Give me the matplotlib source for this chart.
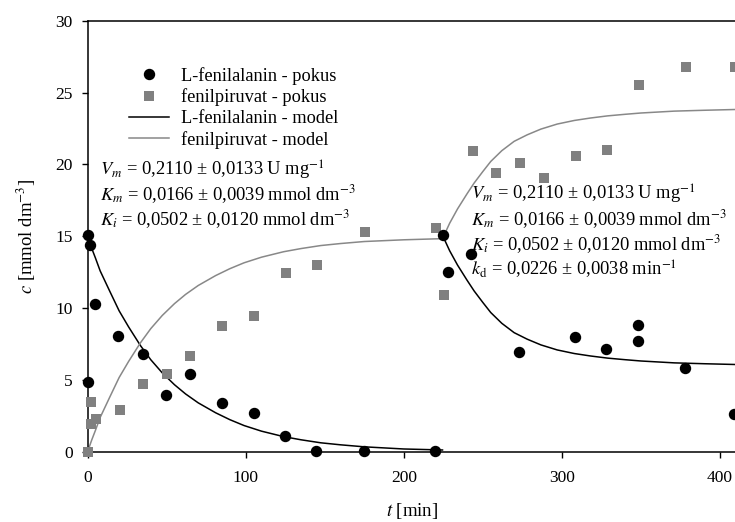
import numpy as np
import matplotlib
matplotlib.use('Agg')
import matplotlib.pyplot as plt

plt.rcParams['font.family'] = ['Liberation Serif', 'DejaVu Serif']
plt.rcParams['mathtext.fontset'] = 'stix'

# measured data: L-phenylalanine (black circles)
phe_t = [0, 0, 1.5, 4.9, 19.4, 34.8, 49.6, 64.6, 84.8, 105, 124.7, 144.7, 174.9,
         219.8, 225, 227.8, 242.4, 273, 308, 328, 347.9, 347.9, 377.8, 409]
phe_c = [15.07, 4.9, 14.4, 10.3, 8.1, 6.8, 3.96, 5.4, 3.4, 2.73, 1.13, 0.07, 0.07,
         0.07, 15.07, 12.5, 13.8, 6.94, 8.0, 7.13, 8.8, 7.7, 5.86, 2.66]

# measured data: phenylpyruvate (grey squares)
ppa_t = [0, 1.9, 1.9, 5.5, 20.3, 35.2, 50, 65, 85.2, 105.5, 125.3, 145.4, 175.3,
         220.4, 225.3, 243.5, 258.2, 273.6, 288.4, 308.7, 328.7, 348.5, 378.7, 409.7]
ppa_c = [0, 3.5, 1.92, 2.29, 2.92, 4.7, 5.4, 6.67, 8.75, 9.47, 12.48, 13.0, 15.28,
         15.6, 10.9, 20.95, 19.4, 20.1, 19.05, 20.6, 21.0, 25.55, 26.76, 26.76]

# model curves, first run and run after second substrate dose
mod_t1 = [0, 2.65, 5, 8, 14, 20, 26, 33.5, 40, 47.3, 55, 62, 70, 81, 90, 99, 110,
          124, 135, 147.5, 160, 175, 200, 224.5]
phe_mod_c1 = [15.0, 14.17, 13.5, 12.6, 11.2, 9.82, 8.7, 7.4, 6.42, 5.5, 4.68, 4.04,
              3.42, 2.73, 2.25, 1.84, 1.45, 1.07, 0.85, 0.64, 0.5, 0.36, 0.21, 0.14]
ppa_mod_c1 = [0, 0.83, 1.5, 2.4, 3.8, 5.18, 6.3, 7.6, 8.58, 9.5, 10.32, 10.96,
              11.58, 12.27, 12.75, 13.16, 13.55, 13.93, 14.15, 14.36, 14.5, 14.64, 14.76, 14.84]

mod_t2 = [224.5, 229, 234, 240, 244.5, 250, 255, 262, 269.8, 278, 286.7, 297, 307.8,
          318, 328.9, 340, 350, 371, 390, 412]
phe_mod_c2 = [15.07, 14.0, 13.0, 11.95, 11.2, 10.4, 9.7, 8.95, 8.3, 7.85, 7.45, 7.1,
              6.85, 6.68, 6.53, 6.42, 6.33, 6.2, 6.14, 6.08]
ppa_mod_c2 = [14.84, 15.91, 16.91, 17.96, 18.71, 19.51, 20.21, 20.96, 21.61, 22.06,
              22.46, 22.81, 23.06, 23.23, 23.38, 23.49, 23.58, 23.71, 23.77, 23.83]

grey = '#808080'

fig = plt.figure(figsize=(7.35, 5.22), dpi=100)
ax = fig.add_axes([87.5 / 735, 70 / 522, 680 / 735, 431.3 / 522])

ax.plot(phe_t, phe_c, 'o', color='black', ms=7.2, clip_on=False, zorder=4,
        label='L-fenilalanin - pokus')
ax.plot(ppa_t, ppa_c, 's', color=grey, ms=7, mew=0, clip_on=False, zorder=3,
        label='fenilpiruvat - pokus')
ax.plot(mod_t1, phe_mod_c1, '-', color='black', lw=1.1, zorder=2,
        label='L-fenilalanin - model')
ax.plot(mod_t1, ppa_mod_c1, '-', color='#888888', lw=1.1, zorder=2,
        label='fenilpiruvat - model')
ax.plot(mod_t2, phe_mod_c2, '-', color='black', lw=1.1, zorder=2)
ax.plot(mod_t2, ppa_mod_c2, '-', color='#888888', lw=1.1, zorder=2)

ax.set_xlim(0, 430)
ax.set_ylim(0, 30)
ax.set_xticks([0, 100, 200, 300, 400])
ax.set_yticks([0, 5, 10, 15, 20, 25, 30])
ax.tick_params(direction='out', length=4.5, width=1, labelsize=12.5)
ax.tick_params(axis='x', pad=8.5)
ax.tick_params(axis='y', pad=6)
for s in ax.spines.values():
    s.set_linewidth(1.1)

ax.set_xlabel('$t$ [min]', fontsize=13.5)
ax.xaxis.set_label_coords(0.478, -0.114)
ax.set_ylabel('$c$ [mmol dm$^{-3}$]', fontsize=13.5)
ax.yaxis.set_label_coords(-0.073, 0.5)

ax.legend(loc='upper left', bbox_to_anchor=(129 / 735, 1 - 67 / 522),
          bbox_transform=fig.transFigure, frameon=False, fontsize=13.2,
          handlelength=2.2, handletextpad=0.65, labelspacing=0.2,
          borderpad=0, borderaxespad=0, numpoints=1)

left_txt = ['$V_m$ = 0,2110 ± 0,0133 U mg$^{-1}$',
            '$K_m$ = 0,0166 ± 0,0039 mmol dm$^{-3}$',
            '$K_i$ = 0,0502 ± 0,0120 mmol dm$^{-3}$']
right_txt = left_txt + ['$k_\\mathrm{d}$ = 0,0226 ± 0,0038 min$^{-1}$']

for i, s in enumerate(left_txt):
    fig.text(100 / 735, 1 - (175.7 + 24.7 * i) / 522, s, fontsize=13.3,
             va='baseline', ha='left')
for i, s in enumerate(right_txt):
    fig.text(471.5 / 735, 1 - (200 + 25 * i) / 522, s, fontsize=13.3,
             va='baseline', ha='left')

fig.savefig('out.png', dpi=100)
